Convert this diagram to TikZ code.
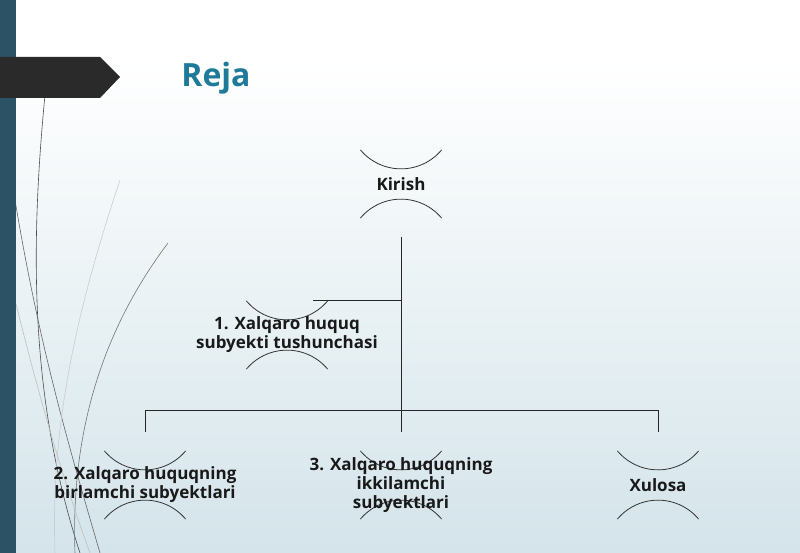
\documentclass[tikz,border=0pt]{standalone}
\usepackage{fontspec}
\setmainfont{Open Sans}
\definecolor{barc}{RGB}{44,83,101}
\definecolor{tabc}{RGB}{42,42,42}
\definecolor{titlec}{RGB}{31,122,153}
\definecolor{bgb}{RGB}{212,228,234}
\begin{document}
\begin{tikzpicture}[x=1pt,y=-1pt,
  lbl/.style={font=\fontsize{17}{19}\selectfont\bfseries,align=center,text=black!90},
  arcline/.style={draw=black!80,line width=0.8pt},
  conn/.style={draw=black!85,line width=0.8pt}]
\useasboundingbox (0,0) rectangle (800,553);
\fill[white] (0,0) rectangle (800,60);
\shade[top color=white,bottom color=bgb] (0,60) rectangle (800,553);
% decorative curves
\draw[black!70,line width=0.6pt] (45,95) .. controls (30,250) and (30,400) .. (80,553);
\draw[black!60,line width=0.6pt] (15,200) .. controls (40,350) and (70,450) .. (100,553);
\draw[black!55,line width=0.6pt] (168,243) .. controls (110,320) and (70,420) .. (75,553);
\draw[black!20,line width=0.6pt] (120,180) .. controls (80,300) and (50,420) .. (55,553);
\draw[black!25,line width=0.6pt] (15,300) .. controls (40,400) and (60,470) .. (90,553);
\fill[barc] (0,0) rectangle (16,553);
\fill[tabc] (0,57) -- (100,57) -- (120,77) -- (100,98) -- (0,98) -- cycle;
\node[font=\fontsize{32}{36}\selectfont\bfseries,text=titlec] (title) at (216,78) {Reja};
% nodes
\foreach \n/\x/\y in {k/401/184,a/287/335,b/145/485,c/401/485,d/658/485}{
  \coordinate (\n) at (\x,\y);
  \draw[arcline] ([shift={(40:53)}]\x,\y) arc[start angle=-40,end angle=-140,radius=53];
  \draw[arcline] ([shift={(-40:53)}]\x,\y) arc[start angle=40,end angle=140,radius=53];
}
\node[lbl] (kt) at (k) {Kirish};
\node[lbl] (at) at (a) {1. Xalqaro huquq\\subyekti tushunchasi};
\node[lbl] (bt) at (b) {2. Xalqaro huquqning\\birlamchi subyektlari};
\node[lbl] (ct) at (c) {3. Xalqaro huquqning\\ikkilamchi\\subyektlari};
\node[lbl] (dt) at (d) {Xulosa};
\coordinate (kb) at (401,237);
\coordinate (j1) at (401,300);
\coordinate (a1) at (313,300);
\coordinate (j2) at (401,410);
\coordinate (bl) at (145,410);
\coordinate (dr) at (658,410);
\draw[conn] (kb) -- (j2);
\draw[conn] (j1) -- (a1);
\draw[conn] (bl) -- (dr);
\draw[conn] (bl) -- (145,432);
\draw[conn] (j2) -- (401,432);
\draw[conn] (dr) -- (658,432);
\end{tikzpicture}
\end{document}
